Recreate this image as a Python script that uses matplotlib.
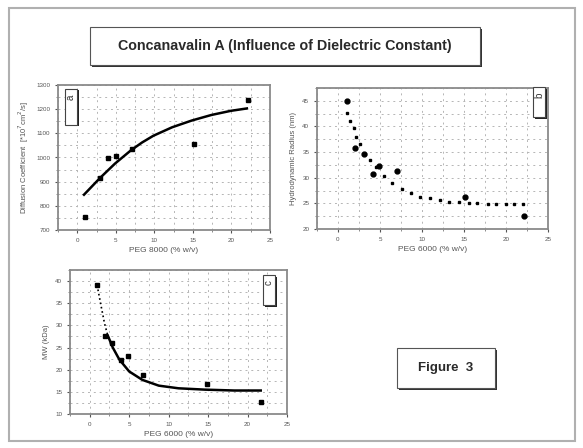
import matplotlib
matplotlib.use("Agg")
import matplotlib.pyplot as plt
from matplotlib.patches import Rectangle
from matplotlib.ticker import MultipleLocator

plt.rcParams['font.family'] = ['Liberation Sans', 'DejaVu Sans']

# ---- data ----
# panel a: diffusion coefficient
a_x = [0.96, 2.94, 4.0, 5.0, 7.1, 15.2, 22.2]
a_y = [755, 915, 996, 1008, 1036, 1057, 1239]
a_fit_x = [0.87, 2.94, 4.9, 6.97, 8.4, 9.87, 12.3, 14.85, 17.4, 19.9, 22.0]
a_fit_y = [846, 915, 975, 1030, 1062, 1090, 1125, 1153, 1176, 1193, 1203]

# panel b: hydrodynamic radius
b_x = [1.08, 2.08, 3.08, 4.12, 4.92, 7.08, 15.08, 22.2]
b_y = [45.0, 35.8, 34.6, 30.7, 32.2, 31.3, 26.2, 22.6]
b_fit_x = [1.08, 1.48, 1.88, 2.2, 2.6, 3.2, 3.8, 4.52, 5.48, 6.4, 7.6, 8.68,
           9.8, 11.0, 12.2, 13.2, 14.4, 15.6, 16.6, 17.8, 18.8, 20.0, 21.0, 22.0]
b_fit_y = [42.6, 41.1, 39.7, 38.0, 36.5, 34.7, 33.5, 32.0, 30.3, 28.9, 27.8, 27.0,
           26.3, 26.0, 25.7, 25.3, 25.2, 25.15, 25.0, 24.9, 24.9, 24.9, 24.9, 24.9]

# panel c: molecular weight
c_x = [0.96, 1.88, 2.79, 3.96, 4.79, 6.79, 14.8, 21.7]
c_y = [39.2, 27.7, 26.0, 22.2, 23.1, 18.8, 16.8, 12.8]
c_fit_x = [1.04, 1.46, 1.88, 2.29, 2.92, 3.75, 5.0, 6.67, 8.75, 11.25, 14.58, 18.33, 21.67]
c_fit_y = [38.1, 34.2, 30.4, 27.7, 25.0, 22.3, 19.6, 17.7, 16.4, 15.8, 15.5, 15.3, 15.3]

x_ticks = [0, 5, 10, 15, 20, 25]
a_yticks = [700, 800, 900, 1000, 1100, 1200, 1300]
b_yticks = [20, 25, 30, 35, 40, 45]
c_yticks = [10, 15, 20, 25, 30, 35, 40]

title = "Concanavalin A (Influence of Dielectric Constant)"

W, H = 583, 448
fig = plt.figure(figsize=(W / 100, H / 100), dpi=100)


def box(x0, y0, x1, y1):
    return [x0 / W, 1 - y1 / H, (x1 - x0) / W, (y1 - y0) / H]


def fig_rect(x0, y0, x1, y1, **kw):
    fig.patches.append(Rectangle((x0 / W, 1 - y1 / H), (x1 - x0) / W, (y1 - y0) / H,
                                 transform=fig.transFigure, figure=fig, **kw))


# outer page border
fig_rect(9, 8, 575, 441, fill=False, edgecolor='#b0b0b0', linewidth=1.5)

# title box with shadow
fig_rect(92, 29, 482, 67, facecolor='#333333', edgecolor='none')
fig_rect(90, 27, 480, 65, facecolor='white', edgecolor='#555555', linewidth=0.8)
fig.text(285 / W, 1 - 46 / H, title, ha='center', va='center', fontsize=10.3,
         fontweight='bold', color='#2a2a2a')

# figure 3 box
fig_rect(399, 350, 497, 390, facecolor='#333333', edgecolor='none')
fig_rect(397, 348, 495, 388, facecolor='white', edgecolor='#555555', linewidth=0.8)
fig.text(446 / W, 1 - 368 / H, "Figure  3", ha='center', va='center', fontsize=9.5,
         fontweight='bold', color='#2a2a2a')


def style(ax, xlim, ylim, yticks, xlabel, ylabel):
    ax.set_xlim(*xlim)
    ax.set_ylim(*ylim)
    ax.set_xticks(x_ticks)
    ax.xaxis.set_minor_locator(MultipleLocator(2.5))
    ax.set_yticks(yticks)
    ax.yaxis.set_minor_locator(MultipleLocator((yticks[1] - yticks[0]) / 2))
    ax.tick_params(labelsize=4.5, colors='#555555', length=2, width=0.8, direction='out')
    ax.tick_params(which='minor', length=1.5, width=0.6, colors='#777777')
    ax.grid(True, which='both', color='#b5b5b5', linestyle=(0, (2, 4)), linewidth=0.7)
    for s in ax.spines.values():
        s.set_color('#8a8a8a')
        s.set_linewidth(1.3)
    ax.set_xlabel(xlabel, fontsize=6, color='#555555', labelpad=3)
    ax.set_ylabel(ylabel, fontsize=5.5, color='#555555', labelpad=4)
    ax.set_axisbelow(True)


def tag(ax, x0, y0, x1, y1, letter):
    fig_rect(x0 + 1.5, y0 + 1.5, x1 + 1.5, y1 + 1.5, facecolor='#222222', edgecolor='none', zorder=5)
    fig_rect(x0, y0, x1, y1, facecolor='white', edgecolor='#444444', linewidth=0.8, zorder=6)
    fig.text((x0 + x1) / 2 / W, 1 - (y0 + 8) / H, letter, ha='center', va='center',
             fontsize=7, rotation=90, color='#333333', zorder=7)


# panel a
axa = fig.add_axes(box(58, 85, 270, 230))
style(axa, (-2.5, 25), (700, 1300), a_yticks, "PEG 8000 (% w/v)",
      "Diffusion Coefficient  [*10$^{7}$cm$^2$/s]")
axa.plot(a_fit_x, a_fit_y, color='black', linewidth=1.8, zorder=3)
axa.plot(a_x, a_y, 's', color='black', markersize=3.5, zorder=4)
tag(axa, 65, 89, 77, 125, 'a')

# panel b
axb = fig.add_axes(box(317, 88, 548, 229))
style(axb, (-2.5, 25), (20, 47.5), b_yticks, "PEG 6000 (% w/v)", "Hydrodynamic Radius (nm)")
axb.plot(b_fit_x, b_fit_y, 's', color='black', markersize=1.5, zorder=3)
axb.plot(b_x, b_y, 'o', color='black', markersize=3.5, zorder=4)
tag(axb, 533, 87, 545, 117, 'b')

# panel c
axc = fig.add_axes(box(70, 270, 287, 414))
style(axc, (-2.5, 25), (10, 42.5), c_yticks, "PEG 6000 (% w/v)", "MW (kDa)")
axc.plot(c_fit_x[:4], c_fit_y[:4], ':', color='black', linewidth=1.2, zorder=3)
axc.plot(c_fit_x[3:], c_fit_y[3:], color='black', linewidth=1.8, zorder=3)
axc.plot(c_x, c_y, 's', color='black', markersize=3.5, zorder=4)
tag(axc, 263, 275, 275, 305, 'c')

fig.savefig("out.png", dpi=100)
